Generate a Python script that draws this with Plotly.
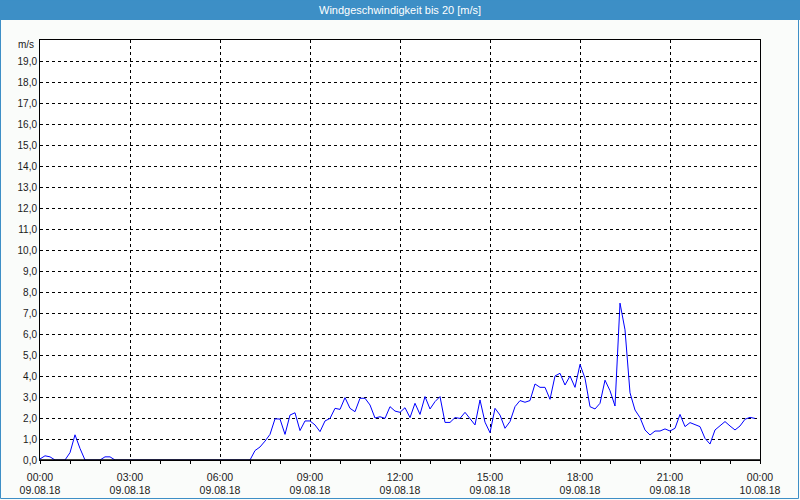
import pandas as pd
import plotly.graph_objects as go

# ---- data ----
START = "2018-08-09 00:00"
STEP = "10min"
wind = [
    0.05, 0.2, 0.15, 0, 0, 0, 0.35, 1.2, 0.55, 0,
    0, 0, 0, 0.15, 0.15, 0, 0, 0, 0, 0,
    0, 0, 0, 0, 0, 0, 0, 0, 0, 0,
    0, 0, 0, 0, 0, 0, 0, 0, 0, 0,
    0, 0, 0, 0.45, 0.62, 0.9, 1.22, 1.96, 1.95, 1.22,
    2.14, 2.25, 1.4, 1.86, 1.86, 1.67, 1.35, 1.86, 1.98, 2.46,
    2.41, 2.97, 2.46, 2.3, 2.94, 2.94, 2.62, 2.0, 2.06, 1.98,
    2.54, 2.33, 2.27, 2.49, 2.02, 2.7, 2.17, 3.02, 2.43, 2.78,
    3.02, 1.79, 1.79, 2.02, 1.98, 2.27, 1.98, 1.67, 2.86, 1.8,
    1.3, 2.46, 2.14, 1.51, 1.83, 2.54, 2.83, 2.75, 2.83, 3.62,
    3.46, 3.46, 2.89, 4.0, 4.13, 3.57, 4.0, 3.46, 4.55, 3.89,
    2.54, 2.43, 2.7, 3.8, 3.3, 2.57, 7.47, 6.2, 3.2, 2.38,
    2.02, 1.43, 1.19, 1.38, 1.38, 1.48, 1.38, 1.51, 2.17, 1.59,
    1.78, 1.67, 1.59, 1.03, 0.76, 1.43, 1.62, 1.83, 1.62, 1.43,
    1.62, 1.94, 2.03, 1.98,
]
times = pd.date_range(START, periods=len(wind), freq=STEP)

x_tickvals = ["2018-08-09 00:00", "2018-08-09 03:00", "2018-08-09 06:00",
              "2018-08-09 09:00", "2018-08-09 12:00", "2018-08-09 15:00",
              "2018-08-09 18:00", "2018-08-09 21:00", "2018-08-10 00:00"]
x_ticktext = ["00:00<br>09.08.18", "03:00<br>09.08.18", "06:00<br>09.08.18",
              "09:00<br>09.08.18", "12:00<br>09.08.18", "15:00<br>09.08.18",
              "18:00<br>09.08.18", "21:00<br>09.08.18", "00:00<br>10.08.18"]
y_tickvals = list(range(0, 20))
y_ticktext = [f"{v},0" for v in y_tickvals]

TITLE = "Windgeschwindigkeit bis 20 [m/s]"
UNIT = "m/s"

# ---- layout geometry (pixels) ----
W, H = 800, 500
L, R, T, B = 40, 40, 40, 40
pw, ph = W - L - R, H - T - B


def px(xp):
    return (xp - L) / pw


def py(yp):
    return (H - B - yp) / ph


FONT = "Liberation Sans"
BLUE = "#3D8FC6"

fig = go.Figure()
fig.add_trace(go.Scatter(x=times, y=wind, mode="lines",
                         line=dict(color="#0000FF", width=1),
                         hoverinfo="skip", showlegend=False))

fig.update_layout(
    width=W, height=H,
    margin=dict(l=L, r=R, t=T, b=B, autoexpand=False),
    paper_bgcolor="#FAFCFA",
    plot_bgcolor="#FFFFFF",
    font=dict(family=FONT, size=10, color="#1a1a1a"),
    shapes=[
        dict(type="rect", xref="paper", yref="paper",
             x0=px(0), x1=px(W), y0=py(20), y1=py(0),
             fillcolor=BLUE, line=dict(width=0), layer="above"),
        dict(type="rect", xref="paper", yref="paper",
             x0=px(0.5), x1=px(798.5), y0=py(498.5), y1=py(0),
             fillcolor="rgba(0,0,0,0)", line=dict(color=BLUE, width=1),
             layer="above"),
        # baseline drawn over the trace, as in the original
        dict(type="line", xref="paper", yref="paper",
             x0=0, x1=1, y0=0, y1=0,
             line=dict(color="black", width=1.5), layer="above"),
    ],
    annotations=[
        dict(text=TITLE, xref="paper", yref="paper", x=0.5, y=py(10),
             xanchor="center", yanchor="middle", showarrow=False,
             font=dict(family=FONT, size=11, color="#FFFFFF")),
        dict(text=UNIT, xref="paper", yref="paper", x=px(36), y=py(45),
             xanchor="right", yanchor="middle", showarrow=False,
             font=dict(family=FONT, size=10, color="#1a1a1a")),
    ],
)

fig.update_xaxes(
    type="date",
    automargin=False,
    range=["2018-08-09 00:00", "2018-08-10 00:00"],
    tickvals=x_tickvals, ticktext=x_ticktext,
    ticks="outside", ticklen=3, tickcolor="black",
    ticklabelstandoff=4,
    showgrid=True, gridcolor="black", gridwidth=1, griddash="3px,3px",
    showline=True, linecolor="black", linewidth=1, mirror=True,
    layer="above traces",
    minor=dict(ticks="outside", ticklen=3, tickcolor="black",
               dtick=3600000, tick0="2018-08-09 00:00", showgrid=False),
    zeroline=False,
    tickfont=dict(family=FONT, size=10.5, color="#1a1a1a"),
    fixedrange=True,
)
fig.update_yaxes(
    automargin=False,
    range=[0, 20],
    tickvals=y_tickvals, ticktext=y_ticktext,
    ticks="", showgrid=True, gridcolor="black", gridwidth=1, griddash="3px,3px",
    showline=True, linecolor="black", linewidth=1, mirror=True,
    layer="above traces",
    zeroline=False,
    tickfont=dict(family=FONT, size=10, color="#1a1a1a"),
    fixedrange=True,
)

fig.write_html("out.html", config=dict(displayModeBar=False))
